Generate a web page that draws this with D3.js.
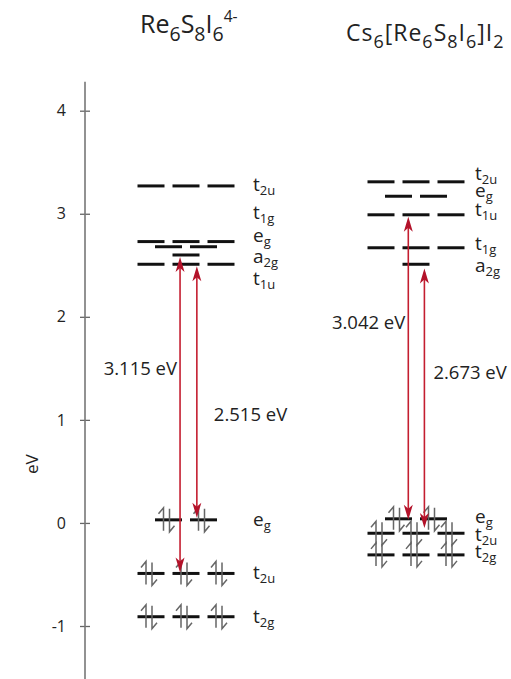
<!DOCTYPE html>
<html>
<head>
<meta charset="utf-8">
<script src="https://cdn.jsdelivr.net/npm/d3@7"></script>
<style>
  body { margin: 0; background: #fff; }
  text { font-family: "Open Sans", Lato, sans-serif; fill: #222; }
</style>
</head>
<body>
<div id="chart"></div>
<script>
// columns (compounds)
var columns = ["left", "right"];

// energy levels: column, label, energy (eV), number of dashes, occupied?
var levelCol    = ["left", "left", "left", "left", "left", "left", "left", "left",
                   "right", "right", "right", "right", "right", "right", "right", "right"];
var levelName   = ["t|2u", "t|1g", "e|g", "a|2g", "t|1u", "e|g", "t|2u", "t|2g",
                   "t|2u", "e|g", "t|1u", "t|1g", "a|2g", "e|g", "t|2u", "t|2g"];
var levelE      = [3.27, 2.73, 2.68, 2.60, 2.51, 0.03, -0.49, -0.91,
                   3.31, 3.17, 2.99, 2.67, 2.51, 0.04, -0.10, -0.31];
var levelDeg    = [3, 3, 2, 1, 3, 2, 3, 3,
                   3, 2, 3, 3, 1, 2, 3, 3];
var levelFilled = [0, 0, 0, 0, 0, 1, 1, 1,
                   0, 0, 0, 0, 0, 1, 1, 1];
// energy where each level's label sits
var labelE      = [3.27, 3.00, 2.77, 2.57, 2.36, 0.02, -0.50, -0.92,
                   3.38, 3.21, 3.03, 2.70, 2.48, 0.05, -0.13, -0.29];

// transitions
var transCol   = ["left", "left", "right", "right"];
var transSlot  = [-0.17, 0.31, -0.22, 0.24];
var transLow   = [-0.48, 0.05, 0.03, -0.05];
var transHigh  = [2.58, 2.49, 2.97, 2.47];
var transLabel = ["3.115 eV", "2.515 eV", "3.042 eV", "2.673 eV"];
var transLabE  = [1.50, 1.06, 1.95, 1.46];

var yTicks = [-1, 0, 1, 2, 3, 4];

var width = 511, height = 679;

var svg = d3.select("#chart").append("svg")
    .attr("width", width)
    .attr("height", height);

var y = d3.scaleLinear().domain([-1, 4]).range([626, 110.7]);
var xCol = d3.scalePoint().domain(columns).range([186, 416]);
var slot = d3.scaleLinear().domain([-1, 1]).range([-35, 35]);

// axis
var axisX = 85;
var axis = svg.append("g")
    .attr("transform", "translate(" + axisX + ",0)")
    .call(d3.axisLeft(y).tickValues(yTicks).tickSize(5).tickPadding(14)
          .tickFormat(function (d) { return String(d); }));
axis.select(".domain").remove();
axis.selectAll(".tick line").attr("x1", 5).attr("stroke", "#666").attr("stroke-width", 1.3);
axis.selectAll(".tick text")
    .style("font-family", "'Open Sans', sans-serif")
    .style("font-size", "16px")
    .attr("fill", "#333");
svg.append("line")
    .attr("x1", axisX).attr("x2", axisX)
    .attr("y1", y(4.28)).attr("y2", height)
    .attr("stroke", "#777").attr("stroke-width", 1.6);

svg.append("text")
    .attr("transform", "translate(38," + y(0.57) + ") rotate(-90)")
    .attr("text-anchor", "middle")
    .style("font-size", "17px")
    .text("eV");

// titles with sub/superscripts, "Re_6S_8I_6^4-"
function richParts(str) {
  var parts = [], re = /([_^])([^_^A-Z\[\]]+)|([^_^]+?)(?=[_^]|$)/g, m;
  while ((m = re.exec(str)) !== null) {
    if (m[1]) parts.push([m[2], m[1] === "_" ? "sub" : "sup"]);
    else parts.push([m[3], "norm"]);
  }
  return parts;
}
function title(x, yy, str, size, spacing) {
  var t = svg.append("text").attr("x", x).attr("y", yy)
      .style("font-size", size + "px")
      .style("letter-spacing", spacing + "px");
  var prev = 0;
  richParts(str).forEach(function (p) {
    var shift = p[1] === "sub" ? size * 0.3 : p[1] === "sup" ? -size * 0.45 : 0;
    var ts = t.append("tspan").text(p[0]).attr("dy", shift - prev);
    if (p[1] === "sub") ts.style("font-size", (size * 0.78) + "px");
    if (p[1] === "sup") ts.style("font-size", (size * 0.62) + "px");
    prev = shift;
  });
}
title(140, 33, "Re_6S_8I_6^4-", 25, 0);
title(346, 41, "Cs_6[Re_6S_8I_6]I_2", 23, 1);

// levels
var levels = levelE.map(function (e, i) {
  return { col: levelCol[i], name: levelName[i], e: e, deg: levelDeg[i],
           filled: levelFilled[i], labelE: labelE[i] };
});

var dashW = 27;
var dashes = [];
levels.forEach(function (lv) {
  for (var k = 0; k < lv.deg; k++) {
    var s = k - (lv.deg - 1) / 2;
    dashes.push({ x: xCol(lv.col) + slot(s), e: lv.e, filled: lv.filled });
  }
});

svg.append("g").selectAll("line")
    .data(dashes)
    .enter().append("line")
    .attr("x1", function (d) { return d.x - dashW / 2; })
    .attr("x2", function (d) { return d.x + dashW / 2; })
    .attr("y1", function (d) { return y(d.e); })
    .attr("y2", function (d) { return y(d.e); })
    .attr("stroke", "#111")
    .attr("stroke-width", 3);

// electron pairs (up/down half arrows)
var elec = svg.append("g")
    .attr("fill", "none")
    .attr("stroke", "#666")
    .attr("stroke-width", 1.5);
dashes.filter(function (d) { return d.filled; }).forEach(function (d) {
  var cx = d.x - 2, cy = y(d.e);
  elec.append("path")
      .attr("d", "M" + (cx - 3) + "," + (cy + 11) + "V" + (cy - 12) + "L" + (cx - 8) + "," + (cy - 6));
  elec.append("path")
      .attr("d", "M" + (cx + 3) + "," + (cy - 11) + "V" + (cy + 12) + "L" + (cx + 8) + "," + (cy + 6));
});

// level labels
var lab = svg.append("g");
levels.forEach(function (lv) {
  var p = lv.name.split("|");
  var t = lab.append("text")
      .attr("x", xCol(lv.col) + (lv.col === "left" ? 67 : 59))
      .attr("y", y(lv.labelE) + 5)
      .style("font-size", "19px");
  t.append("tspan").text(p[0]);
  t.append("tspan").text(p[1]).attr("dy", 4).style("font-size", "13px");
});

// transitions
var red = "#c41e30";
var tr = svg.append("g");
transLow.forEach(function (lo, i) {
  var x = xCol(transCol[i]) + slot(transSlot[i]);
  var y1 = y(lo), y2 = y(transHigh[i]);
  tr.append("line")
      .attr("x1", x).attr("x2", x)
      .attr("y1", y1 - 4).attr("y2", y2 + 4)
      .attr("stroke", red).attr("stroke-width", 1.6);
  tr.append("path")
      .attr("d", "M" + x + "," + y2 + "L" + (x + 4.5) + "," + (y2 + 15) + "L" + x + "," + (y2 + 11) +
                 "L" + (x - 4.5) + "," + (y2 + 15) + "Z")
      .attr("fill", "#b3122a");
  tr.append("path")
      .attr("d", "M" + x + "," + y1 + "L" + (x + 4.5) + "," + (y1 - 15) + "L" + x + "," + (y1 - 11) +
                 "L" + (x - 4.5) + "," + (y1 - 15) + "Z")
      .attr("fill", "#b3122a");
  var left = (i % 2 === 0);
  var gap = transCol[i] === "left" ? 17 : 9;
  tr.append("text")
      .attr("x", left ? x - 3 : x + gap)
      .attr("y", y(transLabE[i]) + 7)
      .attr("text-anchor", left ? "end" : "start")
      .style("font-size", "18.5px")
      .text(transLabel[i]);
});
</script>
</body>
</html>
